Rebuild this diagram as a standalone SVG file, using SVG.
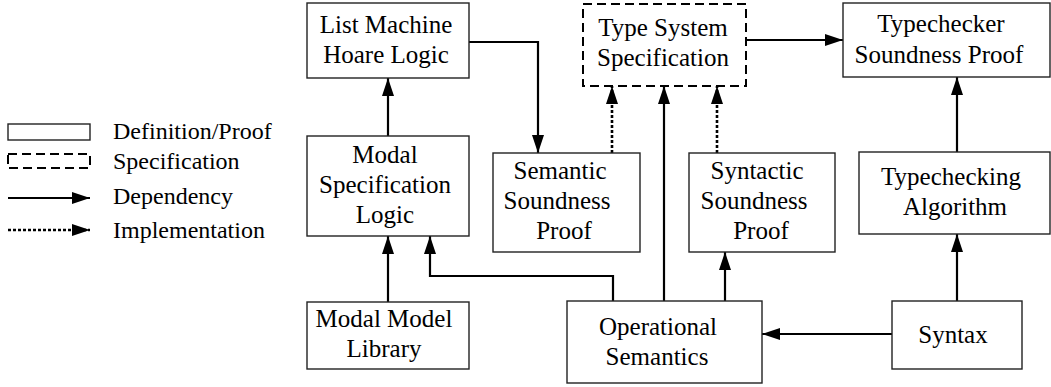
<svg xmlns="http://www.w3.org/2000/svg" width="1051" height="387" viewBox="0 0 1051 387">
<style>
text{font-family:"Liberation Serif","Times New Roman",serif;font-size:25px;fill:#000;text-anchor:middle}
.lg{font-size:24px;text-anchor:start}
.box{fill:#fff;stroke:#222;stroke-width:1.4}
.spec{fill:#fff;stroke:#000;stroke-width:2;stroke-dasharray:9,5}
.dep{fill:none;stroke:#000;stroke-width:2.2;marker-end:url(#ah)}
.impl{fill:none;stroke:#000;stroke-width:2.6;stroke-dasharray:3,2;marker-end:url(#ah)}
</style>
<defs>
<marker id="ah" markerWidth="18" markerHeight="12" refX="18" refY="6" orient="auto" markerUnits="userSpaceOnUse">
<path d="M0,0 L18,6 L0,12 Z" fill="#000"/>
</marker>
</defs>
<rect width="1051" height="387" fill="#fff"/>
<g id="legend">
<rect x="8" y="124" width="82" height="16" class="box"/>
<rect x="8" y="154" width="82" height="14" class="spec"/>
<line x1="8" y1="198" x2="90" y2="198" class="dep"/>
<line x1="8" y1="230" x2="90" y2="230" class="impl"/>
<text class="lg" x="113" y="139">Definition/Proof</text>
<text class="lg" x="113" y="169">Specification</text>
<text class="lg" x="113" y="204">Dependency</text>
<text class="lg" x="113" y="238">Implementation</text>
</g>
<g id="connectors">
<line x1="388" y1="302" x2="388" y2="236" class="dep"/>
<line x1="388" y1="136" x2="388" y2="78" class="dep"/>
<polyline points="469,42 538,42 538,153" class="dep"/>
<line x1="612" y1="153" x2="612" y2="86" class="impl"/>
<polyline points="613,301 613,276 430,276 430,236" class="dep"/>
<line x1="664" y1="301" x2="664" y2="86" class="dep"/>
<line x1="725" y1="301" x2="725" y2="252" class="dep"/>
<line x1="717" y1="153" x2="717" y2="86" class="impl"/>
<line x1="746" y1="40" x2="843" y2="40" class="dep"/>
<line x1="957" y1="152" x2="957" y2="77" class="dep"/>
<line x1="957" y1="301" x2="957" y2="234" class="dep"/>
<line x1="892" y1="334" x2="762" y2="334" class="dep"/>
</g>
<g id="list-machine">
<rect x="307" y="3" width="162" height="75" class="box"/>
<text x="386" y="33">List Machine</text>
<text x="386" y="63">Hoare Logic</text>
</g>
<g id="type-system">
<rect x="583" y="4" width="163" height="82" class="spec"/>
<text x="663" y="36">Type System</text>
<text x="663" y="66">Specification</text>
</g>
<g id="typechecker-proof">
<rect x="843" y="3" width="207" height="74" class="box"/>
<text x="941" y="32">Typechecker</text>
<text x="939" y="63">Soundness Proof</text>
</g>
<g id="modal-spec">
<rect x="307" y="136" width="162" height="100" class="box"/>
<text x="385" y="163">Modal</text>
<text x="385" y="193">Specification</text>
<text x="385" y="223">Logic</text>
</g>
<g id="semantic">
<rect x="493" y="153" width="147" height="99" class="box"/>
<text x="560" y="179">Semantic</text>
<text x="557" y="209">Soundness</text>
<text x="564" y="239">Proof</text>
</g>
<g id="syntactic">
<rect x="689" y="153" width="146" height="99" class="box"/>
<text x="757" y="179">Syntactic</text>
<text x="754" y="209">Soundness</text>
<text x="761" y="239">Proof</text>
</g>
<g id="typechecking">
<rect x="859" y="152" width="191" height="82" class="box"/>
<text x="951" y="185">Typechecking</text>
<text x="955" y="215">Algorithm</text>
</g>
<g id="modal-model">
<rect x="307" y="302" width="162" height="67" class="box"/>
<text x="384" y="327">Modal Model</text>
<text x="384" y="357">Library</text>
</g>
<g id="opsem">
<rect x="567" y="301" width="195" height="82" class="box"/>
<text x="658" y="335">Operational</text>
<text x="657" y="365">Semantics</text>
</g>
<g id="syntax">
<rect x="892" y="301" width="130" height="68" class="box"/>
<text x="953" y="343">Syntax</text>
</g>
</svg>
